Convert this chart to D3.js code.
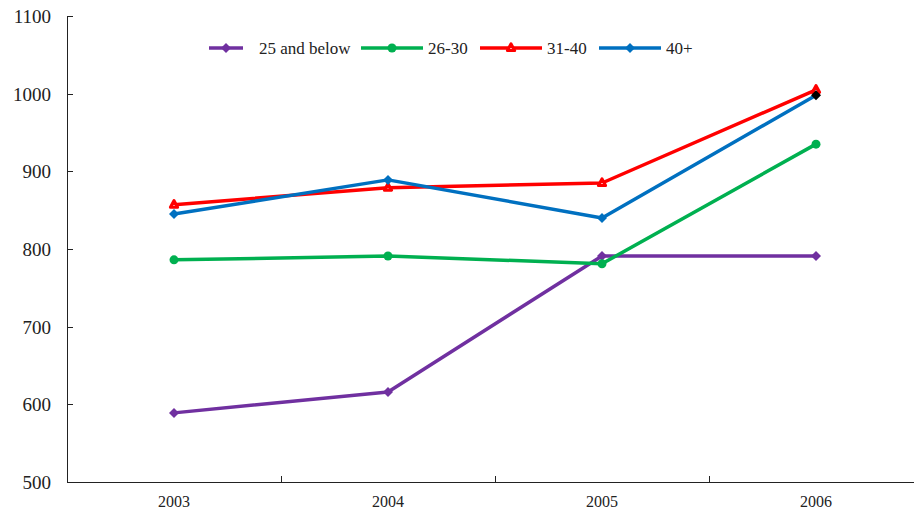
<!DOCTYPE html>
<meta charset="utf-8">
<style>
body { margin: 0; background: #fff; }
svg text { fill: #222; }
.axis path, .axis line { stroke: #222; stroke-width: 1.2; shape-rendering: crispEdges; }
</style>
<body>
<script src="https://d3js.org/d3.v7.min.js"></script>
<script>
var years = ["2003", "2004", "2005", "2006"];
var seriesNames = ["25 and below", "26-30", "31-40", "40+"];
var age25 = [589, 616, 791, 791];
var age26 = [786, 791, 781, 935];
var age31 = [857, 879, 885, 1005];
var age40 = [845, 889, 840, 998];
var yTicks = [500, 600, 700, 800, 900, 1000, 1100];

var width = 914, height = 513;
var margin = {top: 16, left: 67, bottom: 31};
var serif = "Liberation Serif";

var series = [
  {name: seriesNames[0], values: age25, color: "#7030A0", marker: "diamond"},
  {name: seriesNames[1], values: age26, color: "#00B050", marker: "circle"},
  {name: seriesNames[2], values: age31, color: "#FF0000", marker: "triangle"},
  {name: seriesNames[3], values: age40, color: "#0070C0", marker: "diamond"}
];

var svg = d3.select("body").append("svg")
    .attr("width", width)
    .attr("height", height);

var x = d3.scaleBand().domain(years).range([margin.left, margin.left + 214 * 4]);
var y = d3.scaleLinear().domain([500, 1100]).range([height - margin.bottom, margin.top]);

// y axis, ticks pointing inward
var yAxis = svg.append("g")
    .attr("class", "axis")
    .attr("transform", "translate(" + margin.left + ",0)")
    .call(d3.axisRight(y).tickValues(yTicks).tickSize(6).tickFormat(d3.format("d")));
yAxis.attr("font-family", serif);
yAxis.selectAll("text")
    .attr("x", -16)
    .attr("dy", "0.35em")
    .style("text-anchor", "end")
    .style("font-family", serif)
    .style("font-size", "19px");
yAxis.select(".domain").attr("d", "M0.5," + (margin.top) + "V" + y(500));

// x axis, ticks on band boundaries pointing up
var xAxis = svg.append("g")
    .attr("class", "axis")
    .attr("transform", "translate(0," + y(500) + ")");
xAxis.append("line")
    .attr("x1", margin.left).attr("x2", margin.left + 214 * 4)
    .attr("y1", 0.5).attr("y2", 0.5);
xAxis.selectAll(".tk")
    .data(years.slice(1))
    .enter().append("line")
    .attr("x1", function(d) { return x(d) + 0.5; })
    .attr("x2", function(d) { return x(d) + 0.5; })
    .attr("y1", 0).attr("y2", -6);
xAxis.selectAll(".lbl")
    .data(years)
    .enter().append("text")
    .attr("x", function(d) { return x(d) + x.bandwidth() / 2; })
    .attr("y", 25)
    .style("text-anchor", "middle")
    .style("font-family", serif)
    .style("font-size", "16px")
    .text(function(d) { return d; });

function drawMarker(g, type, color, cx, cy, fill) {
  if (type == "diamond") {
    var r = 5;
    g.append("path")
      .attr("d", "M0," + (-r) + "L" + r + ",0L0," + r + "L" + (-r) + ",0Z")
      .attr("transform", "translate(" + cx + "," + cy + ")")
      .attr("fill", fill || color);
  } else if (type == "circle") {
    g.append("circle")
      .attr("cx", cx).attr("cy", cy).attr("r", 4.5)
      .attr("fill", color);
  } else {
    g.append("path")
      .attr("d", "M0,-4L3.5,2.5L-3.5,2.5Z")
      .attr("transform", "translate(" + cx + "," + cy + ")")
      .attr("fill", "#fff")
      .attr("stroke", color)
      .attr("stroke-width", 3.2)
      .attr("stroke-linejoin", "round");
  }
}

var line = d3.line()
    .x(function(d, i) { return x(years[i]) + x.bandwidth() / 2; })
    .y(function(d) { return y(d); });

series.forEach(function(s) {
  var g = svg.append("g");
  g.append("path")
    .datum(s.values)
    .attr("d", line)
    .attr("fill", "none")
    .attr("stroke", s.color)
    .attr("stroke-width", 3.5)
    .attr("stroke-linejoin", "round");
  s.values.forEach(function(v, i) {
    // the last 40+ point is drawn with a black marker in the original
    var fill = (s.name == "40+" && i == 3) ? "#000" : null;
    drawMarker(g, s.marker, s.color, x(years[i]) + x.bandwidth() / 2, y(v), fill);
  });
});

// legend
var legendX = [209, 361, 480, 599];
var legendText = [259, 428, 547, 666];
var legendLen = [34, 62, 62, 62];
var legend = svg.selectAll(".legend")
    .data(series)
    .enter().append("g")
    .attr("class", "legend");
legend.each(function(s, i) {
  var g = d3.select(this);
  g.append("line")
    .attr("x1", legendX[i]).attr("x2", legendX[i] + legendLen[i])
    .attr("y1", 48).attr("y2", 48)
    .attr("stroke", s.color)
    .attr("stroke-width", 3.5);
  drawMarker(g, s.marker, s.color, legendX[i] + legendLen[i] / 2, 48);
  g.append("text")
    .attr("x", legendText[i])
    .attr("y", 48)
    .attr("dy", "0.35em")
    .style("font-family", serif)
    .style("font-size", "17px")
    .text(s.name);
});
</script>
